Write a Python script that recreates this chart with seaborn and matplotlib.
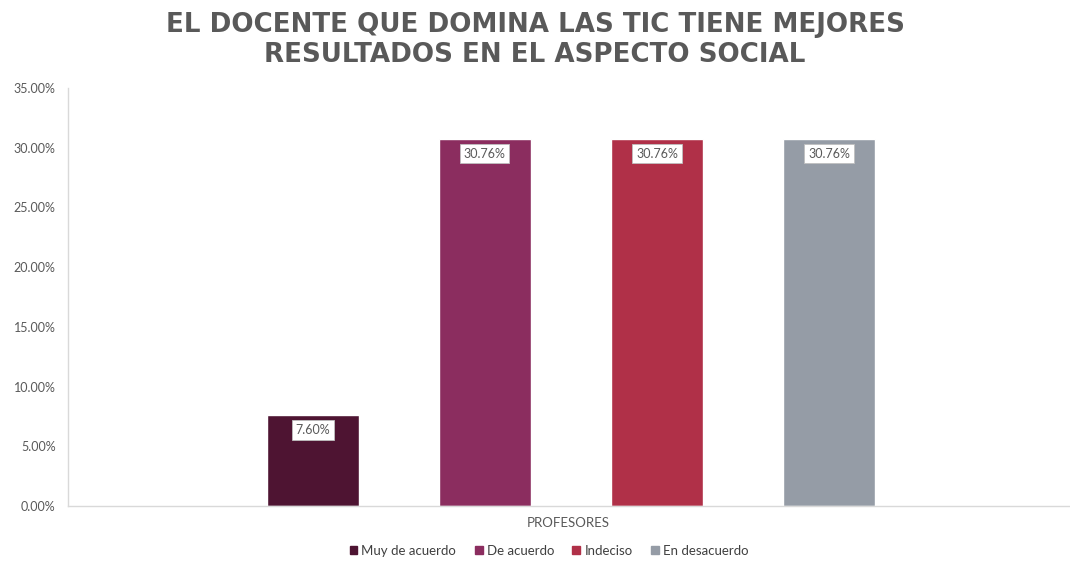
import pandas as pd
import numpy as np
import seaborn as sns
from matplotlib import pyplot as plt
from matplotlib.ticker import FuncFormatter

# Datos
categorias = ['Muy de acuerdo', 'De acuerdo', 'Indeciso', 'En desacuerdo']
valores = [7.60, 30.76, 30.76, 30.76]
colores = ['#4E1432', '#8B2D5F', '#B03048', '#959CA6']
titulo = 'EL DOCENTE QUE DOMINA LAS TIC TIENE MEJORES\nRESULTADOS EN EL ASPECTO SOCIAL'
grupo = 'PROFESORES'

df = pd.DataFrame({'categoria': categorias, 'valor': valores})

sns.set_style('white')
plt.rcParams['font.family'] = ['Lato', 'DejaVu Sans']

fig = plt.figure(figsize=(10.7, 5.62), dpi=100)
ax = fig.add_axes([0.0636, 0.0996, 0.935, 0.7438])

sns.barplot(data=df, x='categoria', y='valor', hue='categoria', palette=colores,
            width=0.535, dodge=False, legend=False, ax=ax, saturation=1)

ax.set_xlim(-1.42, 4.39)
ax.set_ylim(0, 35)
ax.set_yticks(np.arange(0, 35.1, 5))
ax.yaxis.set_major_formatter(FuncFormatter(lambda v, p: f'{v:.2f}%'))
ax.tick_params(axis='y', labelsize=9, labelcolor='#595959', length=3, color='#D9D9D9', pad=6)
ax.set_xticks([])
ax.set_xlabel(grupo, fontsize=9.5, color='#595959', labelpad=8)
ax.set_ylabel('')

for s in ['top', 'right']:
    ax.spines[s].set_visible(False)
for s in ['left', 'bottom']:
    ax.spines[s].set_color('#D9D9D9')
    ax.spines[s].set_linewidth(1)

# Etiquetas de valor
for i, v in enumerate(valores):
    ax.text(i, v - 0.75, f'{v:.2f}%', ha='center', va='top', fontsize=9, color='#595959',
            bbox=dict(boxstyle='square,pad=0.3', fc='white', ec='#BFBFBF', lw=0.6))

fig.suptitle(titulo, y=0.978, fontsize=18.8, fontweight='bold', color='#595959',
             linespacing=1.2, family=['DejaVu Sans'])

handles = [plt.Rectangle((0, 0), 1, 1, color=c) for c in colores]
fig.legend(handles, categorias, loc='lower center', bbox_to_anchor=(0.513, -0.012), ncol=4,
           frameon=False, fontsize=9.5, handlelength=0.6, handleheight=0.6,
           handletextpad=0.3, columnspacing=1.4, labelcolor='#404040')

fig.savefig('out.png', dpi=100)
